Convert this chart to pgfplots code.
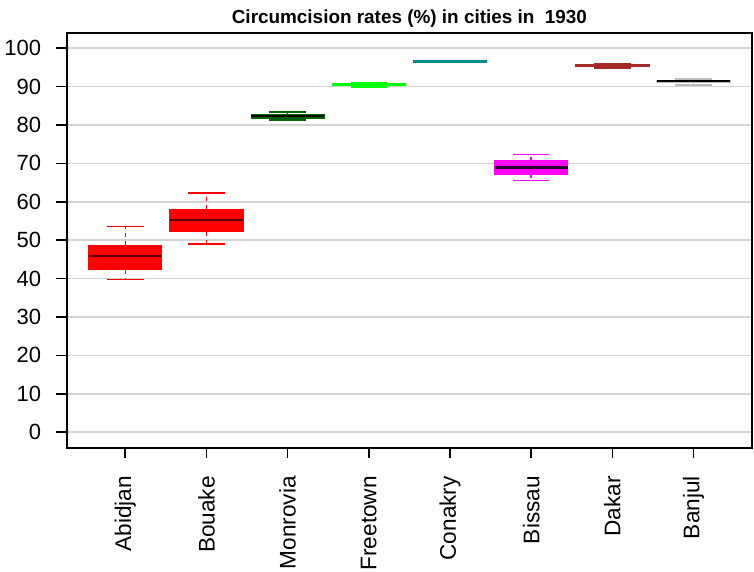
\documentclass[border=0pt]{standalone}
\usepackage{fontspec}
\setmainfont{Liberation Sans}
\usepackage{pgfplots}
\pgfplotsset{compat=1.18}

\definecolor{gridgray}{HTML}{D3D3D3}
\definecolor{rred}{HTML}{FF0000}
\definecolor{dkgreen}{HTML}{006400}
\definecolor{ltgreen}{HTML}{00FF00}
\definecolor{dkcyan}{HTML}{008B8B}
\definecolor{rmagenta}{HTML}{FF00FF}
\definecolor{brownr}{HTML}{A52A2A}
\definecolor{bjgray}{HTML}{BEBEBE}

% one R-style box: position, lower whisker, lower quartile, median,
% upper quartile, upper whisker, colour, median colour
\newcommand{\rbox}[8]{%
  \pgfmathsetmacro\boxl{#1-0.45}\pgfmathsetmacro\boxr{#1+0.45}%
  \pgfmathsetmacro\capl{#1-0.225}\pgfmathsetmacro\capr{#1+0.225}%
  \addplot[draw=#7, line width=0.75pt, dash pattern=on 2pt off 2pt]
    coordinates {(#1,#3) (#1,#2)};
  \addplot[draw=#7, line width=0.75pt]
    coordinates {(\capl,#2) (\capr,#2)};
  \addplot[draw=#7, line width=0.75pt, dash pattern=on 2pt off 2pt]
    coordinates {(#1,#5) (#1,#6)};
  \addplot[draw=#7, line width=0.75pt]
    coordinates {(\capl,#6) (\capr,#6)};
  \addplot[draw=#7, fill=#7, line width=0.6pt]
    coordinates {(\boxl,#3) (\boxr,#3) (\boxr,#5) (\boxl,#5)} -- cycle;
  \addplot[draw=#8, line width=1.2pt]
    coordinates {(\boxl,#4) (\boxr,#4)};
}

\begin{document}
\begin{tikzpicture}
\begin{axis}[
    name=ax,
    scale only axis,
    width=342.5pt, height=207.3pt,
    xmin=0.28, xmax=8.72,
    ymin=-4, ymax=104,
    xtick={1,2,3,4,5,6,7,8},
    xticklabels={Abidjan, Bouake, Monrovia, Freetown, Conakry, Bissau, Dakar, Banjul},
    ytick={0,10,...,100},
    tick pos=left,
    tick align=outside,
    major tick length=5.3pt,
    tick style={black, line width=0.8pt},
    axis line style={black, line width=1pt},
    ymajorgrids,
    grid style={draw=gridgray, line width=0.75pt},
    /pgf/number format/assume math mode=true,
    yticklabel style={font=\fontsize{11}{13}\selectfont, xshift=-4pt},
    xticklabel style={font=\fontsize{11.3}{13}\selectfont, yshift=-5.5pt, rotate=90, anchor=east},
    title={\bfseries Circumcision rates (\%) in cities in\ \ 1930},
    title style={font=\fontsize{9.45}{11}\selectfont, yshift=-7pt},
]
%     pos  lw    lq    med   uq    uw    colour  median
\rbox{1}{39.7}{42.3}{45.8}{48.7}{53.5}{rred}{rred!35!black}   % Abidjan
\rbox{2}{49.0}{52.2}{55.2}{58.0}{62.3}{rred}{rred!35!black}   % Bouake
\rbox{3}{81.3}{81.8}{82.3}{82.8}{83.4}{dkgreen}{black}        % Monrovia
\rbox{4}{89.9}{90.2}{90.5}{90.8}{91.0}{ltgreen}{ltgreen}      % Freetown
\rbox{5}{96.5}{96.5}{96.5}{96.5}{96.5}{dkcyan}{dkcyan}        % Conakry
\rbox{6}{65.5}{67.1}{68.9}{70.6}{72.3}{rmagenta}{rmagenta!15!black} % Bissau
\rbox{7}{94.8}{95.2}{95.4}{95.6}{96.0}{brownr}{brownr}        % Dakar
\rbox{8}{90.4}{91.2}{91.4}{91.6}{92.0}{bjgray}{black}         % Banjul
\end{axis}
\pgfresetboundingbox
\path[use as bounding box] ([xshift=-33.4pt, yshift=-61.9pt]ax.south west)
    rectangle ([xshift=1pt, yshift=16.4pt]ax.north east);
\end{tikzpicture}
\end{document}
